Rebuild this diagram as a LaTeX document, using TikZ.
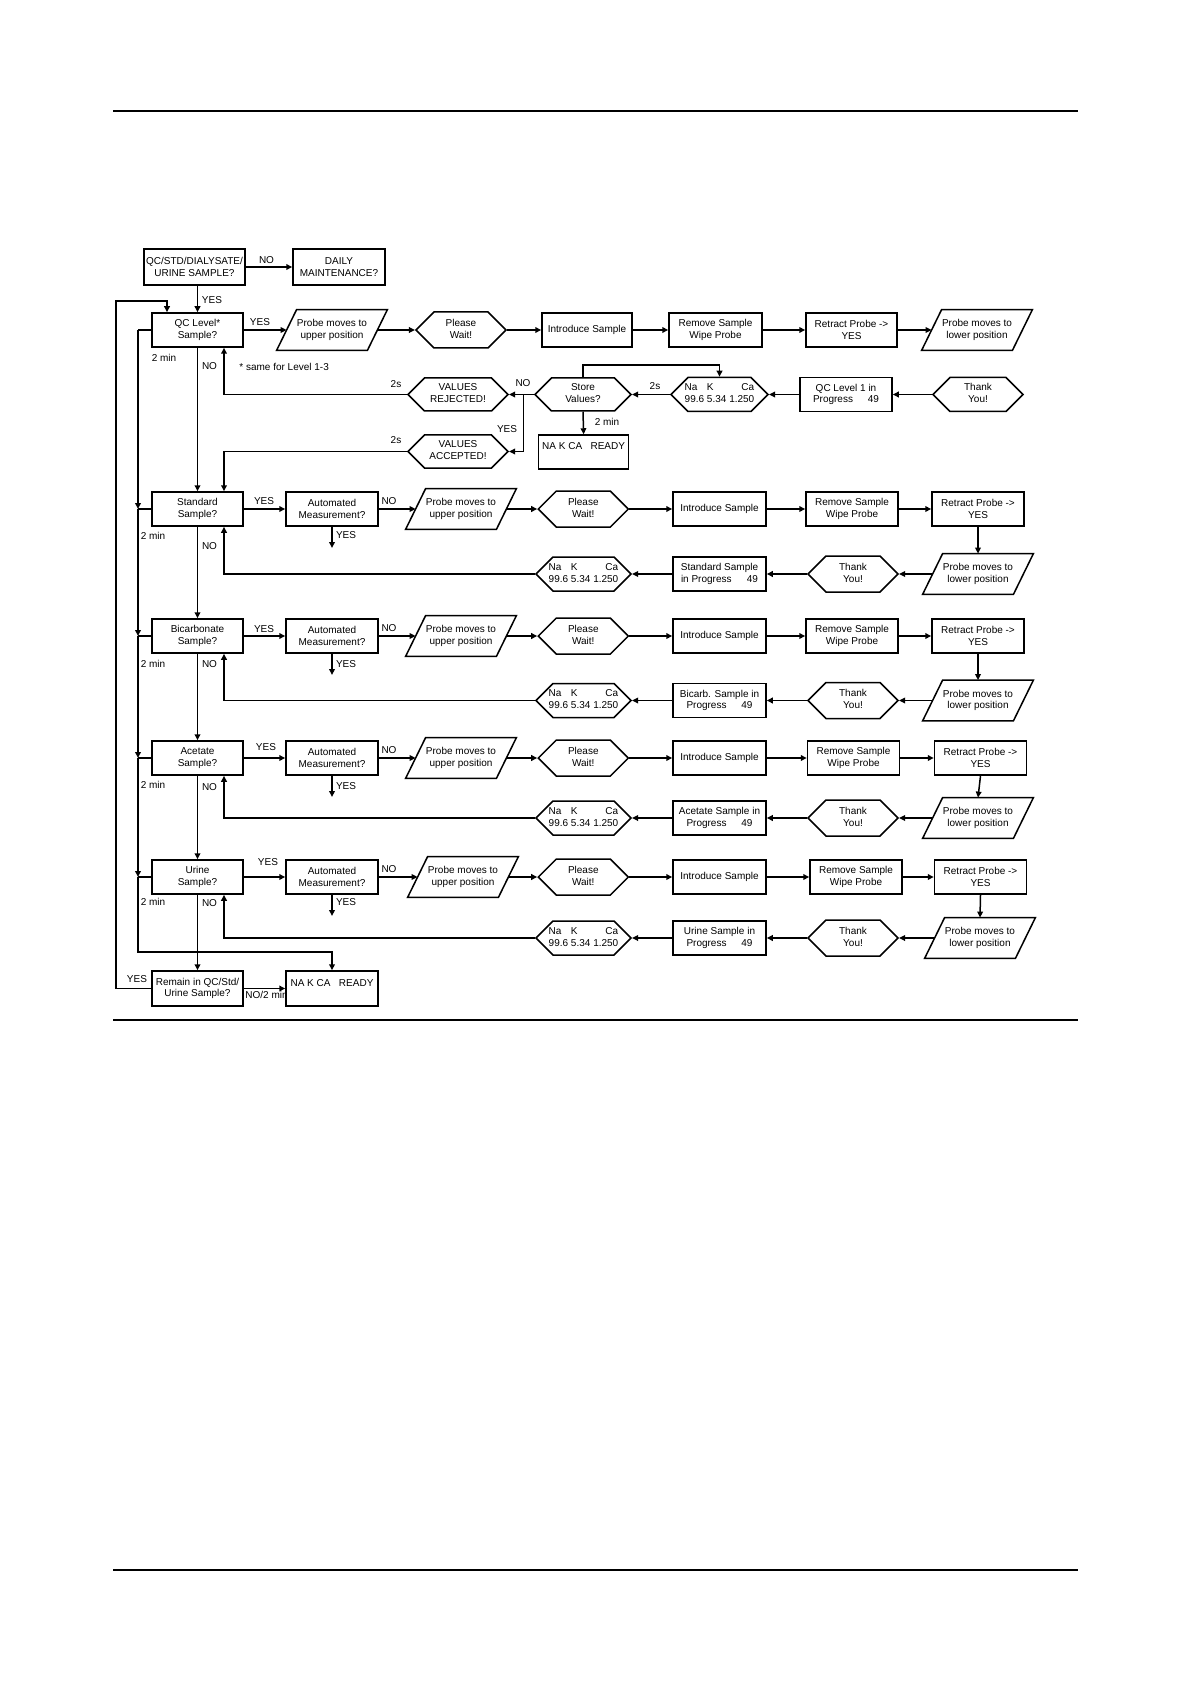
\documentclass[tikz,border=0pt]{standalone}
\usepackage{fontspec}
\setmainfont{Liberation Sans}
\usetikzlibrary{shapes.geometric,shapes.symbols,arrows.meta,calc}
\newcommand{\fs}{\fontsize{5}{5.85}\selectfont}
\newcommand{\zw}[1]{\makebox[0pt]{\begin{tabular}{@{}c@{}}#1\end{tabular}}}
\newcommand{\nak}{\makebox[0pt]{\begin{tabular}{@{}l@{\hspace{1.4pt}}l@{\hspace{1.4pt}}r@{}}Na&K&Ca\\99.6&5.34&1.250\end{tabular}}}
% parallelogram outline around a (rectangular, undrawn) node
\newcommand{\pp}[1]{\draw[line width=0.75pt, line join=miter] ([xshift=-5pt]#1.south west) -- ([xshift=5pt]#1.north west) -- ([xshift=5pt]#1.north east) -- ([xshift=-5pt]#1.south east) -- cycle;}
% #1 id, #2 y, #3 yb, #4 sample text, #5 progress text, #6 para x, #7 remove x, #8 retract x, #9 lower x
\newcommand{\samplerow}[9]{%
 \node[box, minimum width=45.5pt] (s#1) at (197.5,#2) {#4};
 \node[box, minimum width=46pt] (au#1) at (332,#2) {Automated\\Measurement?};
 \node[para] (up#1) at (#6,#2) {Probe moves to\\upper position}; \pp{up#1}
 \node[hex, minimum width=45pt, minimum height=18pt] (w#1) at (583.3,#2) {\zw{Please\\Wait!}};
 \node[box, minimum width=46.5pt] (in#1) at (719.5,#2) {Introduce Sample};
 \node[box, minimum width=46pt] (rm#1) at (#7,#2) {Remove Sample\\Wipe Probe};
 \node[box, minimum width=46pt] (rt#1) at (#8,#2) {Retract Probe ->\\YES};
 \node[para] (lo#1) at (#9,#3) {Probe moves to\\lower position}; \pp{lo#1}
 \node[hex, minimum width=45pt, minimum height=18pt] (ty#1) at (853,#3) {\zw{Thank\\You!}};
 \node[box, minimum width=46.5pt] (pg#1) at (719.5,#3) {#5};
 \node[hex, minimum width=47.5pt, minimum height=17pt] (na#1) at (583.5,#3) {\nak};
 \coordinate (ay#1) at (332,#2+39);
 \draw[arr] (s#1.east) -- (au#1.west);
 \draw[arr] (au#1.east) -- (up#1.west);
 \draw[arr] (up#1.east) -- (w#1.west);
 \draw[arr] (w#1.east) -- (in#1.west);
 \draw[arr] (in#1.east) -- (rm#1.west);
 \draw[arr] (rm#1.east) -- (rt#1.west);
 \draw[arr] (rt#1.south) -- (lo#1.north);
 \draw[arr] (lo#1.west) -- (ty#1.east);
 \draw[arr] (ty#1.west) -- (pg#1.east);
 \draw[arr] (pg#1.west) -- (na#1.east);
 \draw[arr] (na#1.west) -| ([xshift=13.25pt]s#1.south);
 \draw[arr] (au#1.south) -- (ay#1);
}
\begin{document}
\begin{tikzpicture}[x=0.5pt,y=-0.5pt,
 box/.style={draw, line width=0.75pt, rectangle, inner sep=0.5pt, align=center, font=\fs, minimum height=17pt},
 hex/.style={draw, line width=0.75pt, signal, signal to=west and east, signal from=nowhere, signal pointer angle=90, inner sep=0pt, font=\fs},
 para/.style={rectangle, inner sep=0pt, align=center, font=\fs, minimum width=45pt, minimum height=20pt},
 lab/.style={font=\fs, inner sep=0pt},
 arr/.style={line width=0.75pt, -{Triangle[length=3pt,width=2.8pt]}},
 ln/.style={line width=0.75pt}]
\fill[white] (0,0) rectangle (1190,1684);
\useasboundingbox (0,0) rectangle (1190,1684);

% rules
\draw[line width=0.6pt] (113,111) -- (1078,111);
\draw[line width=0.6pt] (113,1020) -- (1078,1020);
\draw[line width=0.6pt] (113,1570) -- (1078,1570);

% top
\node[box, minimum width=50.5pt, minimum height=18pt] (qcstd) at (194.5,267) {QC/STD/DIALYSATE/\\URINE SAMPLE?};
\node[box, minimum width=46pt, minimum height=18pt] (daily) at (339,267) {DAILY\\MAINTENANCE?};

% QC row
\node[box, minimum width=45.5pt] (qc) at (197.5,330) {QC Level*\\Sample?};
\node[para] (probe1) at (332,330) {Probe moves to\\upper position}; \pp{probe1}
\node[hex, minimum width=45pt, minimum height=18pt] (wait1) at (461,330) {\zw{Please\\Wait!}};
\node[box, minimum width=45pt] (intro1) at (587,330) {Introduce Sample};
\node[box, minimum width=46.5pt] (remove1) at (715.5,330) {Remove Sample\\Wipe Probe};
\node[box, minimum width=45.5pt] (retract1) at (851.5,330) {Retract Probe ->\\YES};
\node[para] (lower1) at (977,330) {Probe moves to\\lower position}; \pp{lower1}

\node[hex, minimum width=50pt, minimum height=16.5pt] (rej) at (458,394.5) {\zw{VALUES\\REJECTED!}};
\node[hex, minimum width=48pt, minimum height=16.5pt] (store) at (583,394.5) {\zw{Store\\Values?}};
\node[hex, minimum width=48.5pt, minimum height=17pt] (na1) at (719.5,394.5) {\nak};
\node[box, minimum width=46pt] (ql1) at (846,394.5) {QC Level 1 in\\\makebox[33pt]{Progress\hfill 49}};
\node[hex, minimum width=45pt, minimum height=17pt] (thank1) at (978,394.5) {\zw{Thank\\You!}};
\node[hex, minimum width=50pt, minimum height=16.5pt] (acc) at (458,451.5) {\zw{VALUES\\ACCEPTED!}};
\node[box, minimum width=45pt] (ready1) at (583.6,452) {NA K CA\hspace{4.2pt}READY\\\mbox{}};

% sample rows
\samplerow{2}{509}{574}{Standard\\Sample?}{Standard Sample\\\makebox[38.5pt]{in Progress\hfill 49}}{461}{852}{978}{978}
\samplerow{3}{636}{700.5}{Bicarbonate\\Sample?}{Bicarb. Sample in\\\makebox[33pt]{Progress\hfill 49}}{461}{852}{978}{978}
\samplerow{4}{758}{818}{Acetate\\Sample?}{Acetate Sample in\\\makebox[33pt]{Progress\hfill 49}}{461}{853.5}{980.5}{978}
\samplerow{5}{877}{938}{Urine\\Sample?}{Urine Sample in\\\makebox[33pt]{Progress\hfill 49}}{463}{856}{980.5}{980}

% bottom
\node[lab, anchor=west] (lno2) at (245,995) {NO/2 min};
\node[box, minimum width=45.5pt, minimum height=17.5pt] (remain) at (197.5,988.5) {Remain in QC/Std/\\Urine Sample?};
\node[box, minimum width=46pt, minimum height=17.5pt, fill=white] (ready2) at (332,988.5) {NA K CA\hspace{4.2pt}READY\\\mbox{}};

% top connectors
\draw[arr] (qcstd.east) -- (daily.west);
\draw[arr] (qc.north |- qcstd.south) -- (qc.north);

% QC row connectors
\draw[arr] (qc.east) -- (probe1.west);
\draw[arr] (probe1.east) -- (wait1.west);
\draw[arr] (wait1.east) -- (intro1.west);
\draw[arr] (intro1.east) -- (remove1.west);
\draw[arr] (remove1.east) -- (retract1.west);
\draw[arr] (retract1.east) -- (lower1.west);

\draw[arr] (thank1.west) -- (ql1.east);
\draw[arr] (ql1.west) -- (na1.east);
\draw[arr] (na1.west) -- (store.east);
\coordinate (jn) at (523.6,394.5);
\draw[ln] (store.west) -- (jn);
\draw[arr] (jn) -- (rej.east);
\draw[arr] (jn) |- (acc.east);
\coordinate (st1) at (583,365);
\draw[arr] (store.north) -- (st1) -| (na1.north);
\draw[arr] (store.south) -- (ready1.north);
\draw[arr] (rej.west) -| ([xshift=13.25pt]qc.south);
\draw[arr] (acc.west) -| ([xshift=13.25pt]s2.north);

% NO chain
\draw[arr] (qc.south) -- (s2.north);
\draw[arr] (s2.south) -- (s3.north);
\draw[arr] (s3.south) -- (s4.north);
\draw[arr] (s4.south) -- (s5.north);
\draw[arr] (s5.south) -- (remain.north);

% 2 min bus
\coordinate (b1) at (138,330);
\coordinate (b2) at (138,509);
\coordinate (b3) at (138,636);
\coordinate (b4) at (138,758);
\coordinate (b5) at (138,877);
\coordinate (b6) at (138,952);
\draw[ln] (qc.west) -- (b1);
\draw[arr] (b1) -- (b2); \draw[ln] (s2.west) -- (b2);
\draw[arr] (b2) -- (b3); \draw[ln] (s3.west) -- (b3);
\draw[arr] (b3) -- (b4); \draw[ln] (s4.west) -- (b4);
\draw[arr] (b4) -- (b5); \draw[ln] (s5.west) -- (b5);
\draw[arr] (b5) -- (b6) -| (ready2.north);

% outer loop
\coordinate (o1) at (116,988.5);
\coordinate (o2) at (116,301);
\coordinate (o3) at (167,301);
\draw[arr] (remain.west) -- (o1) -- (o2) -- (o3) -- (o3 |- qc.north);
\draw[arr] (remain.east) -- (ready2.west);

% labels
\node[lab] (l1) at (266.5,260) {NO};
\node[lab] (l2) at (212,300) {YES};
\node[lab] (l3) at (260,322) {YES};
\node[lab] (l4) at (164,358) {2 min};
\node[lab] (l5) at (209.5,366) {NO};
\node[lab, anchor=west] (l6) at (239,367) {* same for Level 1-3};
\node[lab] (l7) at (396,384) {2s};
\node[lab] (l8) at (523,383) {NO};
\node[lab] (l9) at (507,429) {YES};
\node[lab] (l10) at (396,440) {2s};
\node[lab] (l11) at (607,422) {2 min};
\node[lab] (l12) at (655,386) {2s};

\node[lab] (l21) at (264,501) {YES};
\node[lab] (l22) at (389,501) {NO};
\node[lab] (l23) at (346,535) {YES};
\node[lab] (l24) at (153,536) {2 min};
\node[lab] (l25) at (209.5,546) {NO};

\node[lab] (l31) at (264,629) {YES};
\node[lab] (l32) at (389,628) {NO};
\node[lab] (l33) at (346,664) {YES};
\node[lab] (l34) at (153,664) {2 min};
\node[lab] (l35) at (209.5,664) {NO};

\node[lab] (l41) at (266,747) {YES};
\node[lab] (l42) at (389,750) {NO};
\node[lab] (l43) at (346,786) {YES};
\node[lab] (l44) at (153,785) {2 min};
\node[lab] (l45) at (209.5,787) {NO};

\node[lab] (l51) at (268,862) {YES};
\node[lab] (l52) at (389,869) {NO};
\node[lab] (l53) at (346,902) {YES};
\node[lab] (l54) at (153,902) {2 min};
\node[lab] (l55) at (209.5,903) {NO};

\node[lab] (l61) at (137,979) {YES};
\end{tikzpicture}
\end{document}
